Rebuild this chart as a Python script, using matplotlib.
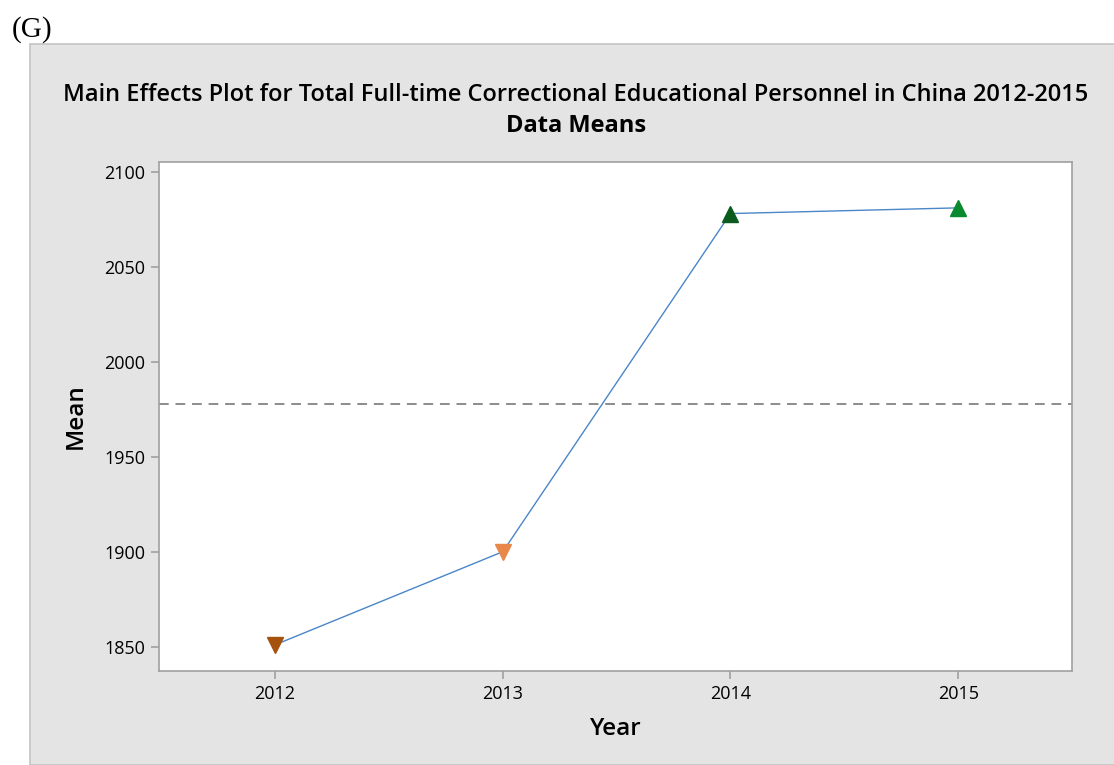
import matplotlib
matplotlib.use("Agg")
import matplotlib.pyplot as plt
from matplotlib.patches import Rectangle

years = ["2012", "2013", "2014", "2015"]
means = [1851.0, 1900.0, 2078.0, 2081.0]
marker_shapes = ["v", "v", "^", "^"]
marker_colors = ["#a5520f", "#e8884a", "#0b5b1e", "#0a8a2e"]
yticks = [1850, 1900, 1950, 2000, 2050, 2100]
title_text = "Main Effects Plot for Total Full-time Correctional Educational Personnel in China 2012-2015"
subtitle_text = "Data Means"

plt.rcParams['font.family'] = ['Open Sans', 'DejaVu Sans']

fig = plt.figure(figsize=(11.14, 7.65), dpi=100)
fig.patch.set_facecolor("white")

# gray panel
panel = Rectangle((30 / 1114, 0), 1.0, (765 - 44) / 765, transform=fig.transFigure,
                  facecolor="#e4e4e4", edgecolor="#c4c4c4", linewidth=1.2, zorder=-5)
fig.patches.append(panel)

fig.text(12 / 1114, 1 - 30 / 765, "(G)", family="Liberation Serif", fontsize=21,
         va="center", ha="left", color="black")

ax = fig.add_axes([159 / 1114, (765 - 671) / 765, (1072 - 159) / 1114, (671 - 161.7) / 765])
ax.set_zorder(2)
ax.set_facecolor("white")

x = list(range(len(years)))
ax.plot(x, means, color="#4a86c8", linewidth=1.0, zorder=2)
for xi, yi, m, c in zip(x, means, marker_shapes, marker_colors):
    ax.plot([xi], [yi], marker=m, color=c, markersize=11, linestyle="none", zorder=3)

grand_mean = sum(means) / len(means)
ax.axhline(grand_mean, color="#8c8c8c", linestyle=(0, (5, 3.5)), linewidth=1.4, zorder=1)

ax.set_xlim(-0.51, 3.5)
ax.set_ylim(1837.2, 2105.3)
ax.set_xticks(x)
ax.set_xticklabels(years)
ax.set_yticks(yticks)

for s in ax.spines.values():
    s.set_color("#a0a0a0")
    s.set_linewidth(1.2)
ax.tick_params(axis="both", colors="#a0a0a0", labelcolor="black", length=6, width=1.2,
               labelsize=13, pad=4)
for lab in ax.get_xticklabels() + ax.get_yticklabels():
    lab.set_fontweight("medium")

ax.set_xlabel("Year", fontsize=17.5, fontweight="semibold", labelpad=10)
ax.set_ylabel("Mean", fontsize=17.5, fontweight="semibold", labelpad=12)

fig.text(576 / 1114, 1 - 95 / 765, title_text, ha="center", va="center",
         fontsize=17, fontweight="semibold")
fig.text(576 / 1114, 1 - 126 / 765, subtitle_text, ha="center", va="center",
         fontsize=17, fontweight="bold")

fig.savefig("out.png", dpi=100)
